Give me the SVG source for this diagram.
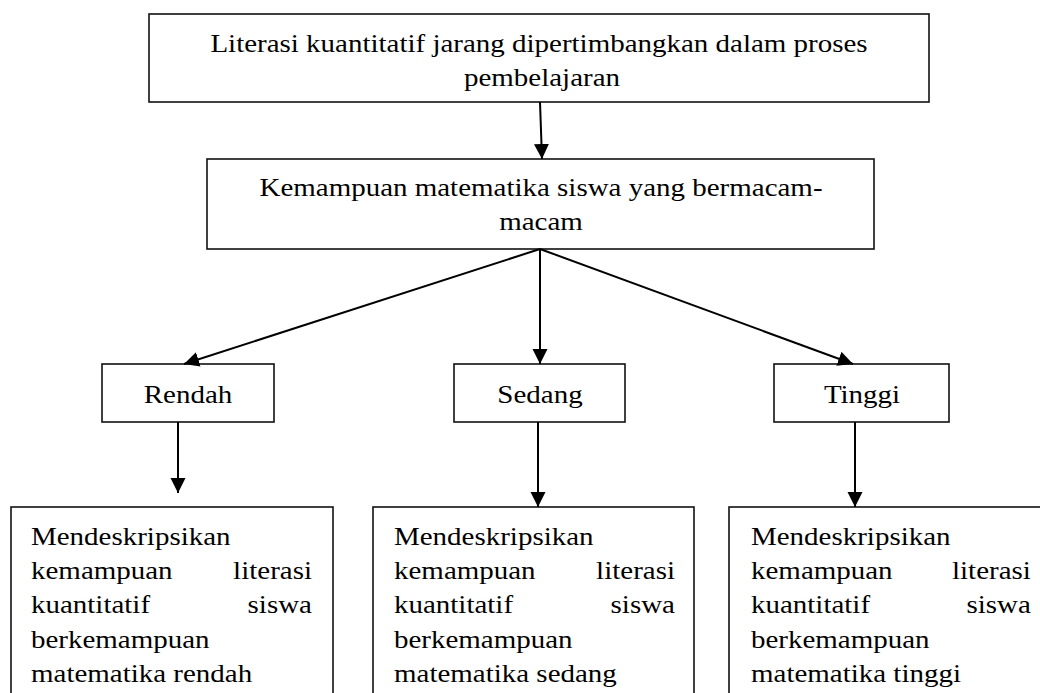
<svg xmlns="http://www.w3.org/2000/svg" width="1040" height="693" viewBox="0 0 1040 693">
<style>
.box{fill:#fff;stroke:#111;stroke-width:1.6}
.t{font-family:"Liberation Serif","Times New Roman",serif;font-size:26px;fill:#000}
.m{text-anchor:middle}
.e{text-anchor:end}
.c{stroke:#000;stroke-width:2;fill:none}
</style>
<defs>
<marker id="ah" markerUnits="userSpaceOnUse" markerWidth="16" markerHeight="16" refX="15" refY="7.5" orient="auto">
<path d="M0,0 L15,7.5 L0,15 z" fill="#000"/>
</marker>
</defs>
<rect width="1040" height="693" fill="#fff"/>
<g id="n-top">
<rect class="box" x="149" y="14" width="780" height="88"/>
<text class="t m" transform="translate(539,52) scale(1.115,1)">Literasi kuantitatif jarang dipertimbangkan dalam proses</text>
<text class="t m" transform="translate(542,86) scale(1.115,1)">pembelajaran</text>
</g>
<g id="n-mid">
<rect class="box" x="207" y="159" width="667" height="90"/>
<text class="t m" transform="translate(541,196) scale(1.115,1)">Kemampuan matematika siswa yang bermacam-</text>
<text class="t m" transform="translate(541,230) scale(1.115,1)">macam</text>
</g>
<g id="n-rendah">
<rect class="box" x="102" y="364" width="172" height="58"/>
<text class="t m" transform="translate(188,403) scale(1.115,1)">Rendah</text>
</g>
<g id="n-sedang">
<rect class="box" x="454" y="364" width="171" height="58"/>
<text class="t m" transform="translate(540,403) scale(1.115,1)">Sedang</text>
</g>
<g id="n-tinggi">
<rect class="box" x="774" y="364" width="175" height="58"/>
<text class="t m" transform="translate(862,403) scale(1.115,1)">Tinggi</text>
</g>
<g id="n-desc-rendah">
<rect class="box" x="11" y="507" width="322" height="220"/>
<g transform="translate(31,0) scale(1.115,1)">
<text class="t" x="0" y="545">Mendeskripsikan</text>
<text class="t" x="0" y="579">kemampuan</text>
<text class="t e" x="252" y="579">literasi</text>
<text class="t" x="0" y="613">kuantitatif</text>
<text class="t e" x="252" y="613">siswa</text>
<text class="t" x="0" y="648">berkemampuan</text>
<text class="t" x="0" y="682">matematika rendah</text>
</g>
</g>
<g id="n-desc-sedang">
<rect class="box" x="373" y="507" width="321" height="220"/>
<g transform="translate(394,0) scale(1.115,1)">
<text class="t" x="0" y="545">Mendeskripsikan</text>
<text class="t" x="0" y="579">kemampuan</text>
<text class="t e" x="252" y="579">literasi</text>
<text class="t" x="0" y="613">kuantitatif</text>
<text class="t e" x="252" y="613">siswa</text>
<text class="t" x="0" y="648">berkemampuan</text>
<text class="t" x="0" y="682">matematika sedang</text>
</g>
</g>
<g id="n-desc-tinggi">
<rect class="box" x="729" y="507" width="322" height="220"/>
<g transform="translate(751,0) scale(1.115,1)">
<text class="t" x="0" y="545">Mendeskripsikan</text>
<text class="t" x="0" y="579">kemampuan</text>
<text class="t e" x="251" y="579">literasi</text>
<text class="t" x="0" y="613">kuantitatif</text>
<text class="t e" x="251" y="613">siswa</text>
<text class="t" x="0" y="648">berkemampuan</text>
<text class="t" x="0" y="682">matematika tinggi</text>
</g>
</g>
<g id="connectors">
<line class="c" x1="540" y1="102" x2="542" y2="159" marker-end="url(#ah)"/>
<line class="c" x1="540" y1="249" x2="184" y2="364" marker-end="url(#ah)"/>
<line class="c" x1="540" y1="249" x2="540" y2="364" marker-end="url(#ah)"/>
<line class="c" x1="540" y1="249" x2="853" y2="364" marker-end="url(#ah)"/>
<line class="c" x1="178" y1="422" x2="178" y2="493" marker-end="url(#ah)"/>
<line class="c" x1="538" y1="422" x2="538" y2="507" marker-end="url(#ah)"/>
<line class="c" x1="855" y1="422" x2="855" y2="507" marker-end="url(#ah)"/>
</g>
</svg>
